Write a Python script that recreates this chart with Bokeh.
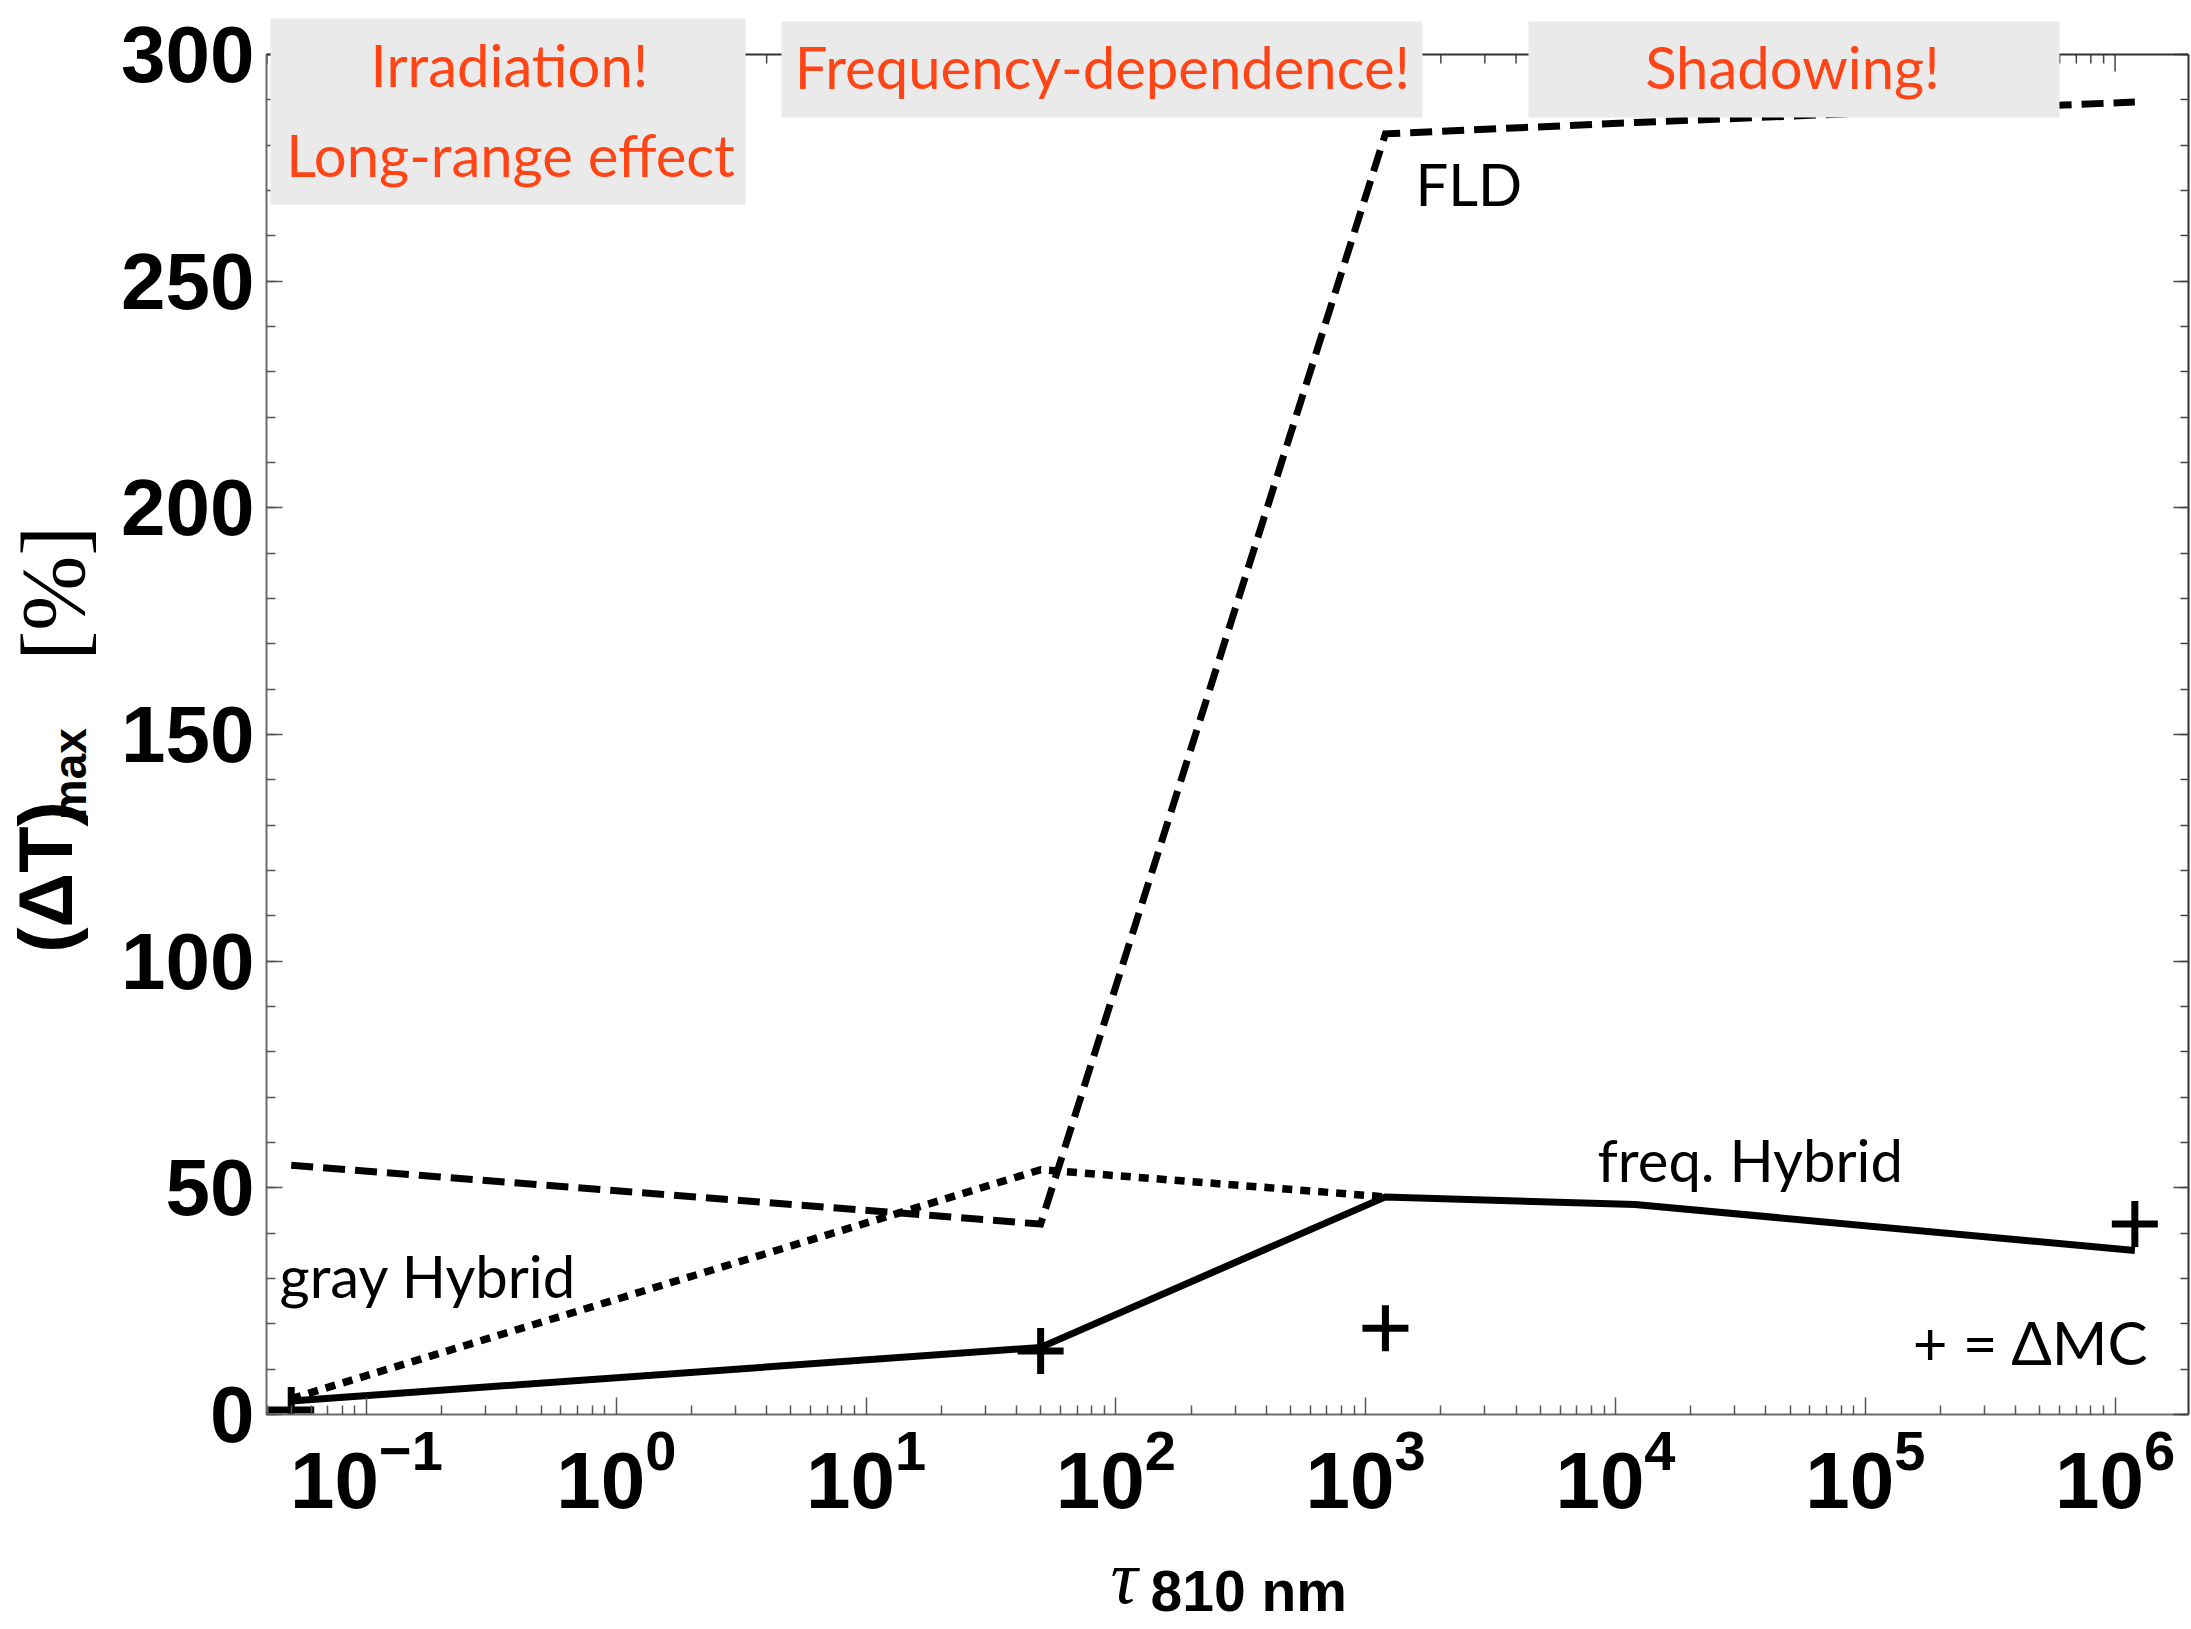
import math
from bokeh.plotting import figure
from bokeh.layouts import row, column
from bokeh.models import (FixedTicker, SingleIntervalTicker, LinearAxis,
                          Label, BoxAnnotation, Span, Range1d)
from bokeh.embed import file_html
from bokeh.resources import INLINE

# ---------------- data ----------------
tau = [0.05, 50, 1200, 12000, 1.2e6]
fld = [55, 42, 282.5, 285, 289.5]
freq_hybrid = [3, 14.8, 48, 46.3, 36.2]
gray_tau = [0.05, 50, 1200]
gray_hybrid = [3.5, 54, 48]
mc_tau = [0.05, 50, 1200, 1.2e6]
mc_delta = [1, 14, 19, 42]

x_major_exps = [-1, 0, 1, 2, 3, 4, 5, 6]
y_max = 300
y_step = 50

box_titles = [["Irradiation!", "Long-range effect"], ["Frequency-dependence!"], ["Shadowing!"]]
curve_names = ["FLD", "freq. Hybrid", "gray Hybrid", "+ = \u0394MC"]

# ---------------- geometry (absolute canvas pixels) ----------------
W, H = 2191, 1629
YW = 110            # strip holding the y-axis title
MH = 1525           # height of main figure; below it the x-axis title strip
FL, FR, FT, FB = 266, 2188, 54, 1414     # visible axes box
XLO, XHI = -1.4, 6.294
PPU = (FB - FT) / y_max                   # pixels per y unit
YTOP = FB / PPU                           # frame reaches the canvas top
BL = 0.41                                 # baseline correction (fraction of font size)


def dx(px):
    return 10 ** (XLO + (px - FL) / (FR - FL) * (XHI - XLO))


def dy(py):
    return (FB - py) / PPU


main = figure(width=W - YW, height=MH, x_axis_type="log",
              x_range=(10 ** XLO, 10 ** XHI), y_range=(0, YTOP),
              output_backend="svg", toolbar_location=None,
              min_border_left=FL - YW, min_border_right=W - FR, min_border_top=0,
              min_border_bottom=MH - FB)
main.xgrid.visible = False
main.ygrid.visible = False
main.outline_line_color = None
main.background_fill_color = "white"
main.border_fill_color = "white"

x_major = [10.0 ** e for e in x_major_exps]
x_minor = [m * 10.0 ** e for e in range(-2, 7) for m in range(2, 10)
           if 10 ** XLO <= m * 10.0 ** e <= 10 ** XHI]
xt = FixedTicker(ticks=x_major, minor_ticks=x_minor)
yt = SingleIntervalTicker(interval=y_step, num_minor_ticks=5)

xa = main.xaxis[0]
xa.ticker = xt
xa.axis_line_color = "#6a6a6a"
xa.axis_line_width = 2
xa.major_tick_in = 17
xa.major_tick_out = 0
xa.minor_tick_in = 9
xa.minor_tick_out = 0
xa.major_tick_line_color = "#555555"
xa.minor_tick_line_color = "#555555"
xa.major_tick_line_width = 1.5
xa.minor_tick_line_width = 1.5
xa.major_label_text_font = "Liberation Sans"
xa.major_label_text_font_style = "bold"
xa.major_label_text_font_size = "80px"
xa.major_label_text_color = "black"
xa.major_label_standoff = 12

ya = main.yaxis[0]
ya.ticker = yt
ya.bounds = (0, y_max)
ya.axis_line_color = "#6a6a6a"
ya.axis_line_width = 2
ya.major_tick_in = 16
ya.major_tick_out = 0
ya.minor_tick_in = 9
ya.minor_tick_out = 0
ya.major_tick_line_color = "#555555"
ya.minor_tick_line_color = "#555555"
ya.major_tick_line_width = 1.5
ya.minor_tick_line_width = 1.5
ya.major_label_text_font = "Liberation Sans"
ya.major_label_text_font_style = "bold"
ya.major_label_text_font_size = "80px"
ya.major_label_text_color = "black"
ya.major_label_standoff = 12

right = LinearAxis(ticker=yt, bounds=(0, y_max),
                   major_label_text_font_size="1px", major_label_text_color=None,
                   major_label_standoff=0,
                   axis_line_color="#333333", axis_line_width=2,
                   major_tick_in=15, major_tick_out=0,
                   minor_tick_in=8, minor_tick_out=0,
                   major_tick_line_color="#444444", minor_tick_line_color="#444444",
                   major_tick_line_width=1.5, minor_tick_line_width=1.5)
main.add_layout(right, "right")

# top edge of the axes box with inward ticks
main.add_layout(Span(location=y_max, dimension="width", line_color="#333333",
                     line_width=2))
main.segment(x0=x_major, y0=[y_max] * len(x_major), x1=x_major,
             y1=[y_max - 17 / PPU] * len(x_major), line_color="#444444", line_width=1.5)
main.segment(x0=x_minor, y0=[y_max] * len(x_minor), x1=x_minor,
             y1=[y_max - 9 / PPU] * len(x_minor), line_color="#444444", line_width=1.5)

# ---------------- curves ----------------
main.line(tau, fld, line_color="black", line_width=7, line_dash="22 10",
          line_join="miter")
main.line(gray_tau, gray_hybrid, line_color="black", line_width=7.5, line_dash="10 8",
          line_join="miter")
main.line(tau, freq_hybrid, line_color="black", line_width=7, line_join="miter")
main.scatter(mc_tau, mc_delta, marker="cross", size=46, line_color="black", line_width=7)

# ---------------- curve labels ----------------
LBL_FONT = "Lato"
LS = 58


def add_text(fig, x, y, text, **kw):
    fig.add_layout(Label(x=x, y=y, text=text, text_baseline="alphabetic", **kw))


add_text(main, dx(1415), dy(207 - BL * LS), curve_names[0], text_font=LBL_FONT,
         text_font_size=f"{LS}px", text_color="black", text_align="left")
add_text(main, dx(1597), dy(1183 - BL * LS), curve_names[1], text_font=LBL_FONT,
         text_font_size=f"{LS}px", text_color="black", text_align="left")
add_text(main, dx(279), dy(1299 - BL * LS), curve_names[2], text_font=LBL_FONT,
         text_font_size=f"{LS}px", text_color="black", text_align="left")
add_text(main, dx(2149), dy(1365 - BL * LS), curve_names[3], text_font=LBL_FONT,
         text_font_size="60px", text_color="black", text_align="right")

# ---------------- highlighted boxes ----------------
RED = "#FF4516"
BOX_FILL = "#EAEAEA"
boxes = [(270, 745, 18, 204), (781, 1422, 21, 117), (1528, 2059, 21, 117)]
for (l, r, t, b) in boxes:
    main.add_layout(BoxAnnotation(left=dx(l), right=dx(r), top=dy(t), bottom=dy(b),
                                  fill_color=BOX_FILL, fill_alpha=1.0, line_color=None))
box_text_pos = [[(509, 88), (510, 178)], [(1102, 90)], [(1792, 90)]]
for lines, poss in zip(box_titles, box_text_pos):
    for txt, (cx, by) in zip(lines, poss):
        add_text(main, dx(cx), dy(by - BL * LS), txt, text_font=LBL_FONT,
                 text_font_size=f"{LS}px", text_color=RED, text_align="center")

# ---------------- y-axis title strip ----------------
yfig = figure(width=YW, height=MH, x_range=Range1d(0, YW), y_range=Range1d(MH, 0),
              output_backend="svg", toolbar_location=None,
              x_axis_location=None, y_axis_location=None,
              min_border_left=0, min_border_right=0, min_border_top=0, min_border_bottom=0)
yfig.xgrid.visible = False
yfig.ygrid.visible = False
yfig.outline_line_color = None
yfig.border_fill_color = "white"
ANG = math.pi / 2
for txt, bx, sy, font, style, fs in [("(\u0394T)", 76, 1027, "Liberation Sans", "bold", 76),
                                     ("max", 88, 884, "Liberation Sans", "bold", 46),
                                     ("[%]", 90, 712, "Liberation Serif", "normal", 90)]:
    add_text(yfig, bx - BL * fs, sy, txt, angle=ANG, text_font=font,
             text_font_style=style, text_font_size=f"{fs}px", text_color="black",
             text_align="left")

# ---------------- x-axis title strip ----------------
XH = H - MH
xfig = figure(width=W, height=XH, x_range=Range1d(0, W), y_range=Range1d(XH, 0),
              output_backend="svg", toolbar_location=None,
              x_axis_location=None, y_axis_location=None,
              min_border_left=0, min_border_right=0, min_border_top=0, min_border_bottom=0)
xfig.xgrid.visible = False
xfig.ygrid.visible = False
xfig.outline_line_color = None
xfig.border_fill_color = "white"
add_text(xfig, 1110, 1608 - MH - BL * 76, "\u03c4", text_font="Liberation Serif",
         text_font_style="italic", text_font_size="76px", text_color="black",
         text_align="left")
add_text(xfig, 1150, 1614 - MH - BL * 57, "810 nm", text_font="Liberation Sans",
         text_font_style="bold", text_font_size="57px", text_color="black",
         text_align="left")

layout = column(row(yfig, main, spacing=0), xfig, spacing=0)
open("out.html", "w").write(file_html(layout, INLINE))
